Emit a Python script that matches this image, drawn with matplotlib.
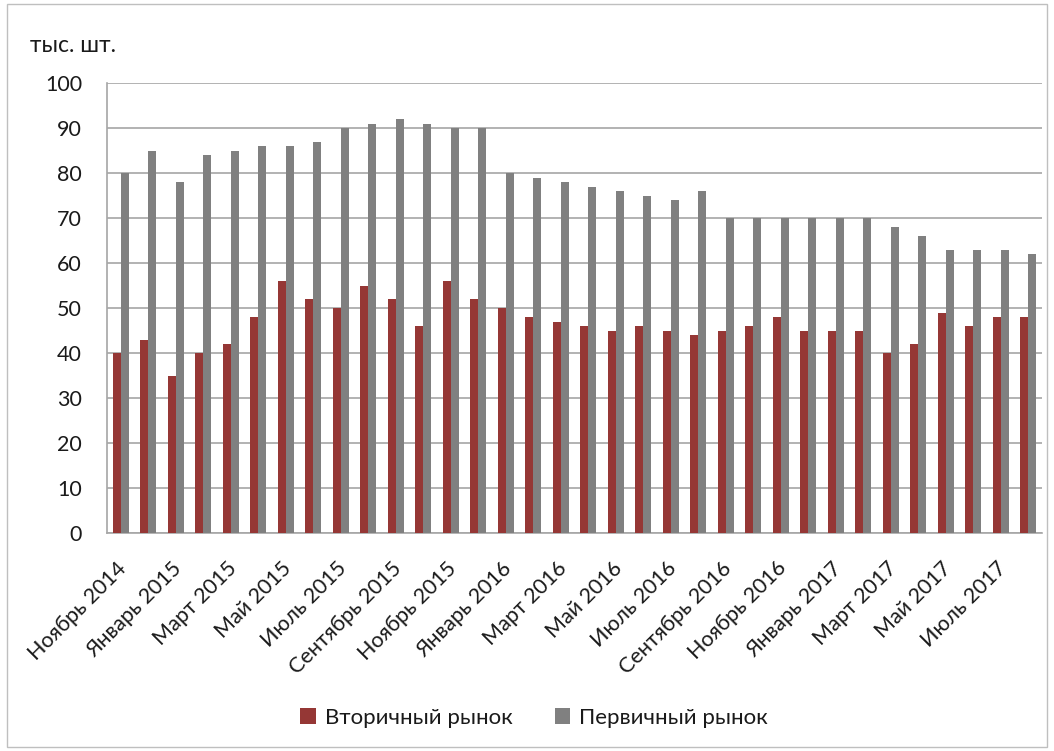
import numpy as np
import matplotlib.pyplot as plt
from matplotlib.patches import Rectangle

plt.rcParams['font.family'] = ['Lato', 'DejaVu Sans']

# monthly data, Nov 2014 .. Aug 2017 (thousand units)
months = ['Ноябрь 2014', 'Декабрь 2014',
          'Январь 2015', 'Февраль 2015', 'Март 2015', 'Апрель 2015', 'Май 2015', 'Июнь 2015',
          'Июль 2015', 'Август 2015', 'Сентябрь 2015', 'Октябрь 2015', 'Ноябрь 2015', 'Декабрь 2015',
          'Январь 2016', 'Февраль 2016', 'Март 2016', 'Апрель 2016', 'Май 2016', 'Июнь 2016',
          'Июль 2016', 'Август 2016', 'Сентябрь 2016', 'Октябрь 2016', 'Ноябрь 2016', 'Декабрь 2016',
          'Январь 2017', 'Февраль 2017', 'Март 2017', 'Апрель 2017', 'Май 2017', 'Июнь 2017',
          'Июль 2017', 'Август 2017']
secondary = [40, 43, 35, 40, 42, 48, 56, 52, 50, 55, 52, 46, 56, 52, 50, 48, 47,
             46, 45, 46, 45, 44, 45, 46, 48, 45, 45, 45, 40, 42, 49, 46, 48, 48]
primary = [80, 85, 78, 84, 85, 86, 86, 87, 90, 91, 92, 91, 90, 90, 80, 79, 78,
           77, 76, 75, 74, 76, 70, 70, 70, 70, 70, 70, 68, 66, 63, 63, 63, 62]

RED = '#953735'
GREY = '#808080'
TXT = '#1a1a1a'
FS = 15.5

fig = plt.figure(figsize=(10.54, 7.51), dpi=100)
ax = fig.add_axes([107 / 1054, 1 - 533 / 751, (1042 - 107) / 1054, (533 - 83) / 751])

x = np.arange(len(months))
w = 0.29
ax.bar(x - w / 2, secondary, w, color=RED, label='Вторичный рынок', zorder=3)
ax.bar(x + w / 2, primary, w, color=GREY, label='Первичный рынок', zorder=3)

ax.set_xlim(-0.5, len(months) - 0.5)
ax.set_ylim(0, 100)
ax.set_yticks(range(0, 101, 10))
ax.yaxis.grid(True, color='#a6a6a6', linewidth=1.2, zorder=0)
ax.tick_params(axis='y', length=0, pad=18, labelsize=FS, colors=TXT)
ax.tick_params(axis='x', length=0, pad=18, labelsize=FS, colors=TXT)

# every second month is labelled, label end sits a bit left of the group centre
ax.set_xticks(x[::2] - 0.15)
ax.set_xticklabels(months[::2], rotation=45, ha='right', rotation_mode='anchor')

for side in ('top', 'right'):
    ax.spines[side].set_visible(False)
for side in ('left', 'bottom'):
    ax.spines[side].set_color('#a6a6a6')
    ax.spines[side].set_linewidth(1.2)

fig.text(30 / 1054, 1 - 45 / 751, 'тыс. шт.', fontsize=16.5, color=TXT, va='center')

fig.legend(loc='center', bbox_to_anchor=(534 / 1054, 1 - 718 / 751), ncol=2,
           frameon=False, fontsize=16, handlelength=0.7, handleheight=0.7,
           columnspacing=1.9, handletextpad=0.4, labelcolor=TXT)

# outer frame of the chart area
fig.add_artist(Rectangle((7 / 1054, 4 / 751), 1040 / 1054, 743 / 751,
                         transform=fig.transFigure, fill=False,
                         edgecolor='#bfbfbf', linewidth=1))

fig.savefig('out.png', dpi=100)
